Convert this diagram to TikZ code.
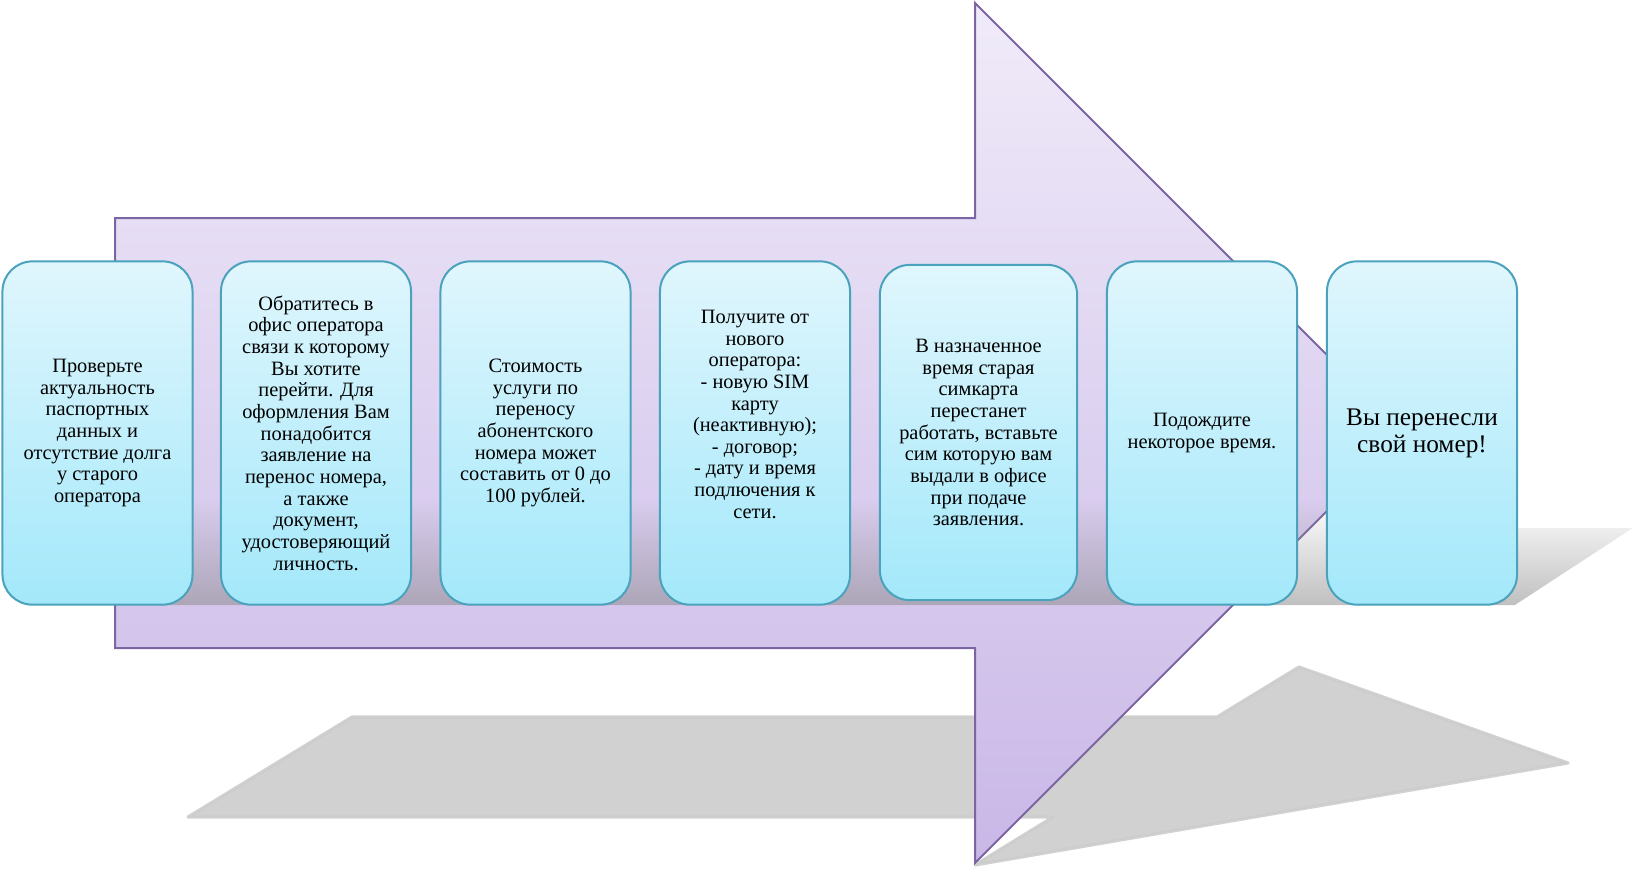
\documentclass[tikz,border=0pt]{standalone}
\usepackage{fontspec}
\setmainfont{Liberation Serif}
\usetikzlibrary{fadings}
\definecolor{arrowtop}{HTML}{F0EBF9}
\definecolor{arrowbottom}{HTML}{C9B7E7}
\definecolor{arrowline}{HTML}{7B66A3}
\definecolor{boxtop}{HTML}{E0F6FD}
\definecolor{boxbottom}{HTML}{A3E8FA}
\definecolor{boxline}{HTML}{4AA2BC}
\definecolor{shadowgray}{HTML}{CCCCCC}
\begin{document}
\begin{tikzpicture}[x = 0.025cm, y = -0.025cm,
        stepbox/.style = {draw = boxline, line width = 0.05cm, rounded corners = 0.75cm,
            top color = boxtop, bottom color = boxbottom, minimum width = 4.75cm,
            minimum height = 8.58cm, inner sep = 0pt, align = center,
            font = \fontsize{14.5}{15.4}\selectfont}]
    \useasboundingbox (0, 0) rectangle (1641, 871);
    \filldraw [shadowgray, line width = 0.08cm, line join = round, opacity = 0.9]
        (188, 817) -- (352, 717) -- (1217, 717) -- (1299, 667) -- (1568, 763)
        -- (975, 865) -- (1053, 817) -- cycle;
    \draw [draw = arrowline, line width = 0.05cm, top color = arrowtop, bottom color = arrowbottom]
        (115, 218) -- (975, 218) -- (975, 3) -- (1405, 433) -- (975, 863) -- (975, 648)
        -- (115, 648) -- cycle;
    \fill [black!45, opacity = 0.55, path fading = north]
        (115, 500) -- (1516, 500) -- (1516, 528) -- (1635, 528) -- (1517, 605) -- (115, 605) -- cycle;
    \node [stepbox] (check) at (97.5, 433) {Проверьте\\актуальность\\паспортных\\данных и\\отсутствие долга\\у старого\\оператора};
    \node [stepbox] (office) at (316, 433) {Обратитесь в\\офис оператора\\связи к которому\\Вы хотите\\перейти. Для\\оформления Вам\\понадобится\\заявление на\\перенос номера,\\а также\\документ,\\удостоверяющий\\личность.};
    \node [stepbox] (cost) at (535.5, 433) {Стоимость\\услуги по\\переносу\\абонентского\\номера может\\составить от 0 до\\100 рублей.};
    \node [stepbox] (receive) at (755, 433) {Получите от\\нового\\оператора:\\- новую SIM\\карту\\(неактивную);\\- договор;\\- дату и время\\подлючения к\\сети.\\[0.4cm]};
    \node [stepbox, minimum width = 4.93cm, minimum height = 8.38cm] (swap) at (978.5, 432.5) {В назначенное\\время старая\\симкарта\\перестанет\\работать, вставьте\\сим которую вам\\выдали в офисе\\при подаче\\заявления.};
    \node [stepbox] (wait) at (1202, 433) {Подождите\\некоторое время.};
    \node [stepbox, font = \fontsize{18}{19.2}\selectfont] (done) at (1422, 433) {Вы перенесли\\свой номер!};
\end{tikzpicture}
\end{document}
